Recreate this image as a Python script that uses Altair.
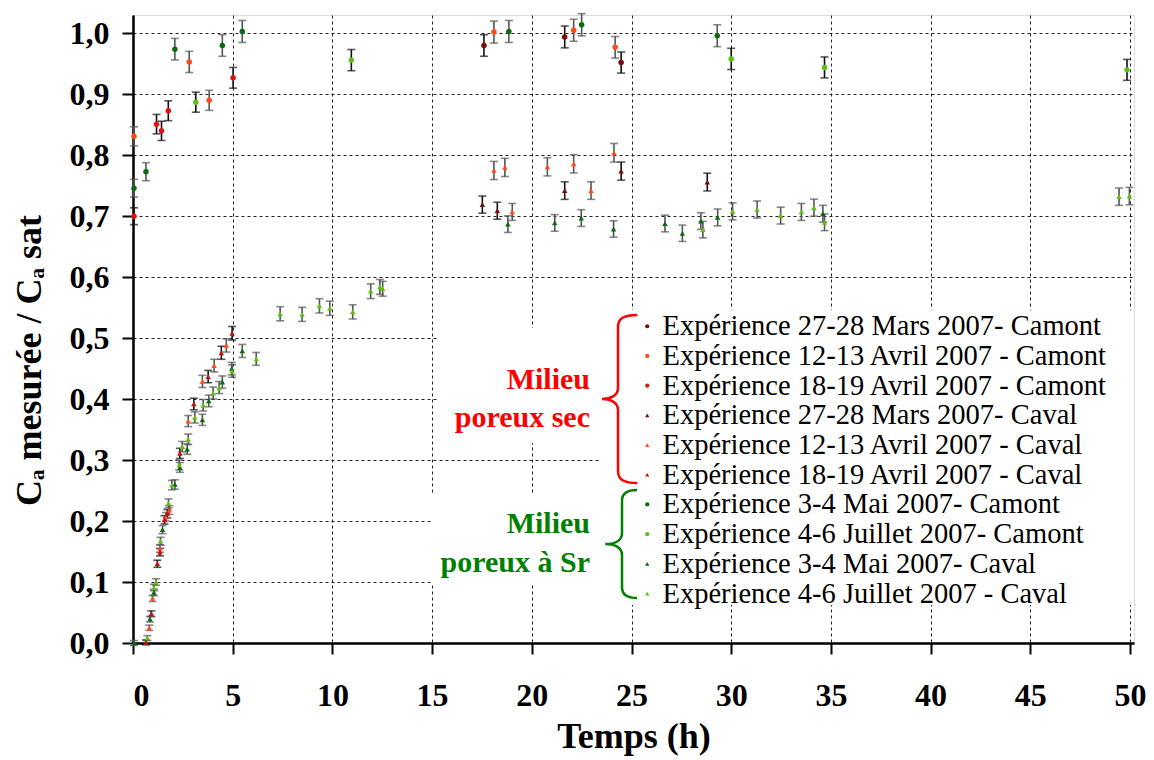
import altair as alt
import pandas as pd

# ---------------- data ----------------
SERIES = [
    "Expérience 27-28 Mars 2007- Camont",
    "Expérience 12-13 Avril 2007 - Camont",
    "Expérience 18-19 Avril 2007 - Camont",
    "Expérience 27-28 Mars 2007- Caval",
    "Expérience 12-13 Avril 2007 - Caval",
    "Expérience 18-19 Avril 2007 - Caval",
    "Expérience 3-4 Mai 2007- Camont",
    "Expérience 4-6 Juillet 2007- Camont",
    "Expérience 3-4 Mai 2007- Caval",
    "Expérience 4-6 Juillet 2007 - Caval",
]
COLORS = ["#7a0a0a", "#ff4a1a", "#e01010", "#7a0a0a", "#ff4a1a", "#c81010",
          "#0a6a10", "#5cc010", "#0a6a10", "#5cc010"]
SHAPES = ["circle", "circle", "circle", "triangle-up", "triangle-up", "triangle-up",
          "circle", "circle", "triangle-up", "triangle-up"]
BAR_COLORS = ["#111111", "#555555", "#111111", "#111111", "#555555", "#111111",
              "#555555", "#111111", "#555555", "#555555"]

mars_camont_t = [17.6, 21.65, 24.48]
mars_camont_c = [0.980, 0.994, 0.952]
avr12_camont_t = [0.05, 2.82, 3.82, 18.1, 22.1, 24.18]
avr12_camont_c = [0.831, 0.953, 0.890, 1.002, 1.005, 0.977]
avr18_camont_t = [0.05, 1.18, 1.43, 1.77, 5.02]
avr18_camont_c = [0.700, 0.851, 0.840, 0.873, 0.927]
mars_caval_t = [17.52, 18.27, 21.65, 24.48, 28.8]
mars_caval_c = [0.719, 0.709, 0.742, 0.774, 0.756]
avr12_caval_t = [0.82, 0.98, 1.35, 1.65, 1.82, 2.77, 3.48, 4.07, 4.68,
                 18.1, 18.65, 19.02, 20.78, 22.1, 22.97, 24.12]
avr12_caval_c = [0.025, 0.073, 0.155, 0.207, 0.218, 0.364, 0.429, 0.455, 0.488,
                 0.775, 0.780, 0.707, 0.781, 0.786, 0.742, 0.804]
avr18_caval_t = [0.65, 0.92, 1.22, 1.35, 1.58, 1.72, 2.35, 3.05, 3.77, 4.43, 4.97]
avr18_caval_c = [0.001, 0.048, 0.130, 0.149, 0.202, 0.212, 0.311, 0.392, 0.437, 0.476, 0.508]
mai_camont_t = [0.05, 0.65, 2.1, 4.48, 5.48, 18.85, 22.5, 29.3]
mai_camont_c = [0.746, 0.773, 0.974, 0.980, 1.003, 1.003, 1.014, 0.996]
juil_camont_t = [3.15, 10.95, 30.0, 34.68, 49.85]
juil_camont_c = [0.887, 0.956, 0.958, 0.944, 0.940]
mai_caval_t = [0.05, 0.85, 1.05, 1.48, 2.1, 2.35, 2.72, 3.48, 3.8, 4.48, 4.95, 5.48,
               18.8, 21.15, 22.48, 24.1, 26.68, 27.55, 28.48, 29.32, 34.6]
mai_caval_c = [0.0, 0.039, 0.083, 0.186, 0.260, 0.288, 0.318, 0.366, 0.397, 0.428, 0.450, 0.479,
               0.687, 0.689, 0.697, 0.679, 0.688, 0.672, 0.692, 0.698, 0.704]
juil_caval_t = [0.72, 1.05, 1.15, 1.38, 1.78, 1.95, 2.32, 2.47, 2.77, 3.1, 3.52, 4.02, 4.32,
                4.97, 6.18, 7.38, 8.48, 9.35, 9.87, 11.02, 11.92, 12.38, 12.52,
                28.58, 30.07, 31.3, 32.48, 33.52, 34.15, 34.68, 49.45, 49.97]
juil_caval_c = [0.008, 0.091, 0.100, 0.167, 0.229, 0.259, 0.292, 0.322, 0.334, 0.370, 0.390, 0.410, 0.419,
                0.446, 0.466, 0.540, 0.539, 0.553, 0.549, 0.543, 0.577, 0.584, 0.581,
                0.678, 0.708, 0.711, 0.701, 0.707, 0.714, 0.690, 0.732, 0.733]

SERIES_T = [mars_camont_t, avr12_camont_t, avr18_camont_t, mars_caval_t, avr12_caval_t,
            avr18_caval_t, mai_camont_t, juil_camont_t, mai_caval_t, juil_caval_t]
SERIES_C = [mars_camont_c, avr12_camont_c, avr18_camont_c, mars_caval_c, avr12_caval_c,
            avr18_caval_c, mai_camont_c, juil_camont_c, mai_caval_c, juil_caval_c]

# measurement uncertainty (absolute + relative part)
ERR_ABS = 0.004
ERR_REL = 0.014

X_TICKS = [0, 5, 10, 15, 20, 25, 30, 35, 40, 45, 50]
Y_TICKS = [0.0, 0.1, 0.2, 0.3, 0.4, 0.5, 0.6, 0.7, 0.8, 0.9, 1.0]

# ---------------- table ----------------
rows = []
for name, bar, ts, cs in zip(SERIES, BAR_COLORS, SERIES_T, SERIES_C):
    for t, c in zip(ts, cs):
        e = ERR_ABS + ERR_REL * c
        rows.append({"serie": name, "t": t, "c": c, "lo": c - e, "hi": c + e, "bar": bar})
df = pd.DataFrame(rows)

# ---------------- layout ----------------
W, H = 1001, 628
XMAX = 50.2
YMAX = 1.03
OX, OY = 133, 15  # plot origin on the page
FONT = "Times New Roman, Liberation Serif, serif"

xscale = alt.Scale(domain=[0, XMAX], nice=False, zero=False)
yscale = alt.Scale(domain=[0, YMAX], nice=False, zero=False)

xaxis = alt.Axis(values=X_TICKS, format="d", title="Temps (h)", grid=True,
                 gridDash=[3, 3], gridColor="#222222", gridWidth=1,
                 domainColor="black", domainWidth=2.5, tickColor="black", tickWidth=2,
                 tickSize=11, labelFont=FONT, labelFontSize=32, labelFontWeight="bold",
                 labelColor="black", labelPadding=26, titleFont=FONT, titleFontSize=36,
                 titleFontWeight="bold", titleColor="black", titlePadding=8)
yaxis = alt.Axis(values=Y_TICKS, title="Cₐ mesurée / Cₐ sat", grid=True,
                 labelExpr="replace(format(datum.value, '.1f'), '.', ',')",
                 gridDash=[3, 3], gridColor="#222222", gridWidth=1,
                 domainColor="black", domainWidth=2.5, tickColor="black", tickWidth=2,
                 tickSize=11, labelFont=FONT, labelFontSize=32, labelFontWeight="bold",
                 labelColor="black", labelPadding=13, titleFont=FONT, titleFontSize=36,
                 titleFontWeight="bold", titleColor="black", titleX=-85, titleY=345)

base = alt.Chart(df)

stems = base.mark_rule(strokeWidth=1.6).encode(
    x=alt.X("t:Q", scale=xscale, axis=xaxis),
    y=alt.Y("lo:Q", scale=yscale, axis=yaxis),
    y2="hi:Q",
    color=alt.Color("bar:N", scale=None),
)
caps_lo = base.mark_tick(orient="horizontal", size=8, thickness=1.6).encode(
    x="t:Q", y="lo:Q", color=alt.Color("bar:N", scale=None))
caps_hi = base.mark_tick(orient="horizontal", size=8, thickness=1.6).encode(
    x="t:Q", y="hi:Q", color=alt.Color("bar:N", scale=None))

points = base.mark_point(filled=True, size=30, opacity=1).encode(
    x="t:Q",
    y="c:Q",
    color=alt.Color("serie:N", scale=alt.Scale(domain=SERIES, range=COLORS),
                    legend=alt.Legend(orient="none", legendX=500, legendY=297, title=None,
                                      labelFont=FONT, labelFontSize=28.5, labelColor="black",
                                      labelLimit=700, symbolSize=18, rowPadding=0.7,
                                      padding=0, labelOffset=1, symbolStrokeWidth=0)),
    shape=alt.Shape("serie:N", scale=alt.Scale(domain=SERIES, range=SHAPES)),
)

one = pd.DataFrame({"k": [0]})
deco = alt.Chart(one)

# white boxes behind the annotations (hide grid lines there)
boxes = alt.layer(
    deco.mark_rect(fill="white").encode(x=alt.value(437 - OX), x2=alt.value(600 - OX),
                                        y=alt.value(328 - OY), y2=alt.value(443 - OY)),
    deco.mark_rect(fill="white").encode(x=alt.value(432 - OX), x2=alt.value(600 - OX),
                                        y=alt.value(495 - OY), y2=alt.value(585 - OY)),
    deco.mark_rect(fill="white").encode(x=alt.value(600 - OX), x2=alt.value(W),
                                        y=alt.value(310 - OY), y2=alt.value(605 - OY)),
)

BRACE_RED = ("M 0.23 -1 C 0.07 -1 0 -0.96 0 -0.86 L 0 -0.13 C 0 -0.04 -0.09 0 -0.19 0 "
             "C -0.09 0 0 0.04 0 0.13 L 0 0.86 C 0 0.96 0.07 1 0.23 1")
BRACE_GREEN = ("M 0.28 -1 C 0.09 -1 0 -0.94 0 -0.8 L 0 -0.2 C 0 -0.06 -0.14 0 -0.31 0 "
               "C -0.14 0 0 0.06 0 0.2 L 0 0.8 C 0 0.94 0.09 1 0.28 1")
braces = alt.layer(
    deco.mark_point(shape=BRACE_RED, size=168 * 168, filled=False, strokeWidth=2.5,
                    color="#ff0000", opacity=1).encode(x=alt.value(618 - OX), y=alt.value(399 - OY)),
    deco.mark_point(shape=BRACE_GREEN, size=108 * 108, filled=False, strokeWidth=2.5,
                    color="#008000", opacity=1).encode(x=alt.value(622 - OX), y=alt.value(544 - OY)),
)

def label(txt, px, py, col):
    return deco.mark_text(align="right", baseline="alphabetic", font=FONT, fontSize=30,
                          fontWeight="bold", color=col).encode(
        x=alt.value(px - OX), y=alt.value(py - OY), text=alt.value(txt))

texts = alt.layer(
    label("Milieu", 590, 389, "#ff0000"),
    label("poreux sec", 590, 427, "#ff0000"),
    label("Milieu", 590, 533, "#008000"),
    label("poreux à Sr", 590, 572, "#008000"),
)

chart = alt.layer(stems, caps_lo, caps_hi, boxes, points, braces, texts).resolve_scale(
    color="independent", shape="independent"
).properties(
    width=W, height=H,
    autosize=alt.AutoSizeParams(type="none"),
    padding={"left": 125, "top": 7, "right": 12, "bottom": 116},
).configure_view(stroke=None).configure(background="white")

chart.save("out.html", embed_options={"renderer": "svg", "actions": False})
